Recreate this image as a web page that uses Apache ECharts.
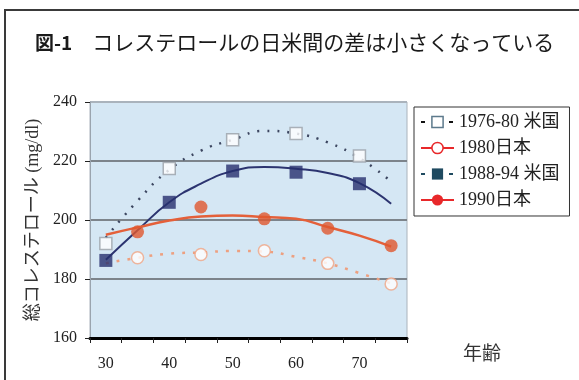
<!DOCTYPE html>
<html>
<head>
<meta charset="utf-8">
<script src="https://cdn.jsdelivr.net/npm/echarts@6/dist/echarts.min.js"></script>
<style>
  html, body { margin: 0; padding: 0; background: #fff; }
  #chart { width: 579px; height: 380px; }
</style>
</head>
<body>
<div id="chart"></div>
<script>
// age groups (category axis)
const ages = ["30", "35", "40", "45", "50", "55", "60", "65", "70", "75"];

// observed points
const us7680 = [192, "-", 217.5, "-", 227.2, "-", 229.3, "-", 221.7, "-"];
const jp80 = ["-", 187.2, "-", 188.3, "-", 189.6, "-", 185.3, "-", 178.3];
const us8894 = [186.3, "-", 206, "-", 216.6, "-", 216.2, "-", 212.3, "-"];
const jp90 = ["-", 196, "-", 204.4, "-", 200.4, "-", 197.2, "-", 191.3];

// trend lines at each age
const us7680Trend = [194, 206.5, 217, 223.5, 227.2, 230.2, 229.3, 226.3, 221, 213];
const jp80Trend = [185.3, 187.2, 188.6, 189, 189.5, 189.3, 187.5, 185.3, 182, 178.5];
const us8894Trend = [186.5, 196.5, 206, 212.3, 216.6, 218, 217.4, 215.9, 212.5, 205.5];
const jp90Trend = [195, 197.5, 199.8, 201.2, 201.5, 201, 200.4, 197.6, 194.7, 191];

const names = ["1976-80 米国", "1980日本", "1988-94 米国", "1990日本"];
const yTicks = [160, 180, 200, 220, 240];

const serif = '"Liberation Serif", "Noto Sans CJK JP", serif';
const sans = '"Noto Sans CJK JP", "Noto Sans", sans-serif';

const chart = echarts.init(document.getElementById("chart"));

const option = {
  animation: false,
  backgroundColor: "#fff",
  title: {
    text: "{a|図-1}{b|コレステロールの日米間の差は小さくなっている}",
    left: 30,
    top: 27,
    textStyle: {
      rich: {
        a: { fontFamily: sans, fontSize: 19, fontWeight: "bold", color: "#1a1a1a", padding: [0, 20, 0, 0] },
        b: { fontFamily: sans, fontSize: 21, fontWeight: "normal", color: "#1a1a1a" },
      },
    },
  },
  graphic: [
    {
      type: "polyline",
      shape: { points: [[5, 380], [5, 10], [579, 10]] },
      style: { stroke: "#3a3a3a", lineWidth: 2, fill: null },
    },
  ],
  legend: {
    orient: "vertical",
    left: 414,
    top: 107,
    padding: [6, 10, 7, 6],
    itemWidth: 33,
    itemHeight: 14,
    itemGap: 8,
    backgroundColor: "#fff",
    borderColor: "#333",
    borderWidth: 1,
    textStyle: { fontFamily: serif, fontSize: 18, color: "#222" },
    data: [
      {
        name: names[0],
        itemStyle: { color: "#fff", borderColor: "#5d7a8c", borderWidth: 1.5 },
        lineStyle: { color: "#111", width: 2, type: [4, 10] },
      },
      {
        name: names[1],
        itemStyle: { color: "#fff", borderColor: "#e8282a", borderWidth: 1.5 },
        lineStyle: { color: "#e8282a", width: 2, type: "solid" },
      },
      {
        name: names[2],
        itemStyle: { color: "#1f4a60", borderWidth: 0 },
        lineStyle: { color: "#1f4a60", width: 2, type: [4, 10] },
      },
      {
        name: names[3],
        itemStyle: { color: "#e8282a", borderWidth: 0 },
        lineStyle: { color: "#e8282a", width: 2, type: "solid" },
      },
    ],
  },
  grid: {
    left: 90,
    right: 172,
    top: 102,
    bottom: 42,
    show: true,
    backgroundColor: "#d5e7f4",
    borderColor: "#aab3bc",
    borderWidth: 1,
  },
  xAxis: {
    type: "category",
    data: ages,
    boundaryGap: true,
    name: "年齢",
    nameLocation: "end",
    nameGap: 56,
    nameTextStyle: {
      fontFamily: serif,
      fontSize: 19,
      color: "#333",
      align: "left",
      verticalAlign: "top",
      padding: [8, 0, 0, 0],
    },
    axisLine: { show: true, lineStyle: { color: "#000", width: 3 } },
    axisTick: { show: true, interval: 0, length: 5, lineStyle: { color: "#222" } },
    axisLabel: {
      interval: 1,
      margin: 18,
      fontFamily: serif,
      fontSize: 16,
      color: "#222",
    },
    splitLine: { show: false },
  },
  yAxis: {
    type: "value",
    min: yTicks[0],
    max: yTicks[yTicks.length - 1],
    interval: 20,
    name: "総コレステロール (mg/dl)",
    nameLocation: "middle",
    nameRotate: 90,
    nameGap: 47,
    nameTextStyle: { fontFamily: serif, fontSize: 18, color: "#333" },
    axisLine: { show: true, lineStyle: { color: "#9aa4ae", width: 1 } },
    axisTick: { show: true, length: 5, lineStyle: { color: "#222" } },
    axisLabel: { margin: 13, fontFamily: serif, fontSize: 16, color: "#222" },
    splitLine: {
      show: true,
      lineStyle: { color: ["#000", "#7d848b", "#7d848b", "#7d848b", "#aab3bc"], width: 2 },
    },
  },
  series: [
    {
      name: names[0],
      type: "line",
      data: us7680Trend,
      smooth: true,
      symbol: "rect",
      showSymbol: false,
      lineStyle: { color: "#3c4660", width: 2.5, type: [2, 8] },
      itemStyle: { color: "#fff" },
      z: 3,
    },
    {
      name: names[1],
      type: "line",
      data: jp80Trend,
      smooth: true,
      symbol: "circle",
      showSymbol: false,
      lineStyle: { color: "#eda080", width: 2.5, type: [3, 8] },
      itemStyle: { color: "#fff" },
      z: 3,
    },
    {
      name: names[2],
      type: "line",
      data: us8894Trend,
      smooth: true,
      symbol: "rect",
      showSymbol: false,
      lineStyle: { color: "#2c3470", width: 2 },
      itemStyle: { color: "#1f4a60" },
      z: 3,
    },
    {
      name: names[3],
      type: "line",
      data: jp90Trend,
      smooth: true,
      symbol: "circle",
      showSymbol: false,
      lineStyle: { color: "#e4603a", width: 2.5 },
      itemStyle: { color: "#e0582e" },
      z: 3,
    },
    {
      name: names[0],
      type: "scatter",
      data: us7680,
      symbol: "rect",
      symbolSize: 12,
      itemStyle: { color: "#fff", borderColor: "#9aa0a8", borderWidth: 1.5 },
      z: 4,
    },
    {
      name: names[1],
      type: "scatter",
      data: jp80,
      symbol: "circle",
      symbolSize: 12,
      itemStyle: { color: "#fff", borderColor: "#f0a585", borderWidth: 1.5 },
      z: 4,
    },
    {
      name: names[2],
      type: "scatter",
      data: us8894,
      symbol: "rect",
      symbolSize: 13,
      itemStyle: { color: "#27306e" },
      z: 4,
    },
    {
      name: names[3],
      type: "scatter",
      data: jp90,
      symbol: "circle",
      symbolSize: 13,
      itemStyle: { color: "#e0582e" },
      z: 4,
    },
  ],
};

chart.setOption(option);
</script>
</body>
</html>
